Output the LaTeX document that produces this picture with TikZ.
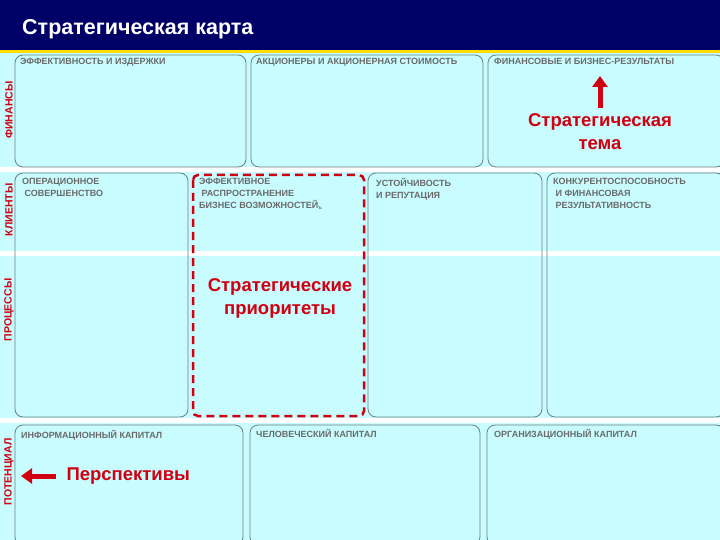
\documentclass[tikz,border=0pt]{standalone}
\usepackage{fontspec}
\setmainfont{Liberation Sans}
\usetikzlibrary{arrows.meta}
\definecolor{navy}{HTML}{000066}
\definecolor{cyanbg}{HTML}{C8FCFF}
\definecolor{boxline}{HTML}{6E7E80}
\definecolor{lbl}{HTML}{6A6A6A}
\definecolor{redc}{HTML}{D00010}
\tikzset{
 x=1pt,y=-1pt,
 card/.style={draw=boxline,line width=0.8pt,rounded corners=8pt},
 cardtxt/.style={anchor=north west,text=lbl,font=\bfseries\fontsize{9}{12}\selectfont,align=left,inner sep=0pt},
 side/.style={rotate=90,text=redc,font=\bfseries\fontsize{10.5}{12}\selectfont,inner sep=0pt},
 redtxt/.style={text=redc,font=\bfseries\fontsize{18.5}{23}\selectfont,align=center}
}
\begin{document}
\begin{tikzpicture}
\useasboundingbox (0,0) rectangle (720,540);
\fill[cyanbg] (0,0) rectangle (720,540);
\fill[navy] (0,0) rectangle (720,50);
\fill[yellow!80!orange] (0,50) rectangle (720,53);
\node[anchor=west,text=white,font=\bfseries\fontsize{21.5}{24}\selectfont,inner sep=0pt] (title) at (22,29) {Стратегическая карта};
% white bands
\fill[white] (0,167) rectangle (720,172);
\fill[white] (0,251) rectangle (720,256);
\fill[white] (0,418) rectangle (720,423);
% finance row
\draw[card] (15,55) rectangle (246,167);
\draw[card] (251,55) rectangle (483,167);
\draw[card] (488,55) rectangle (724,167);
% clients/processes row
\draw[card] (15,173) rectangle (188,417);
\draw[redc,line width=2.5pt,dash pattern=on 8pt off 5pt,rounded corners=5pt] (193,175) rectangle (364,416);
\draw[card] (368,173) rectangle (542,417);
\draw[card] (547,173) rectangle (724,417);
% potential row
\draw[card] (15,425) rectangle (243,545);
\draw[card] (250,425) rectangle (480,545);
\draw[card] (487,425) rectangle (724,545);
% card texts
\node[cardtxt] (t1) at (20,58) {ЭФФЕКТИВНОСТЬ И ИЗДЕРЖКИ};
\node[cardtxt] (t2) at (256,58) {АКЦИОНЕРЫ И АКЦИОНЕРНАЯ СТОИМОСТЬ};
\node[cardtxt] (t3) at (494,58) {ФИНАНСОВЫЕ И БИЗНЕС-РЕЗУЛЬТАТЫ};
\node[cardtxt] (t4) at (22,178) {ОПЕРАЦИОННОЕ\\\ СОВЕРШЕНСТВО};
\node[cardtxt] (t5) at (199,178) {ЭФФЕКТИВНОЕ\\\ РАСПРОСТРАНЕНИЕ\\БИЗНЕС ВОЗМОЖНОСТЕЙ\raisebox{-0.3ex}{\tiny ъ}};
\node[cardtxt] (t6) at (376,178) {УСТОЙЧИВОСТЬ\\И РЕПУТАЦИЯ};
\node[cardtxt] (t7) at (553,178) {КОНКУРЕНТОСПОСОБНОСТЬ\\\ И ФИНАНСОВАЯ\\\ РЕЗУЛЬТАТИВНОСТЬ};
\node[cardtxt] (t8) at (21,430) {ИНФОРМАЦИОННЫЙ КАПИТАЛ};
\node[cardtxt] (t9) at (256,429) {ЧЕЛОВЕЧЕСКИЙ КАПИТАЛ};
\node[cardtxt] (t10) at (494,429) {ОРГАНИЗАЦИОННЫЙ КАПИТАЛ};
% side labels
\node[side] (s1) at (9,110) {ФИНАНСЫ};
\node[side] (s2) at (9,210) {КЛИЕНТЫ};
\node[side] (s3) at (9,310) {ПРОЦЕССЫ};
\node[side] (s4) at (9,472) {ПОТЕНЦИАЛ};
% red annotations
\node[redtxt] (theme) at (600,132) {Стратегическая\\тема};
\coordinate (up) at (600,76);
\draw[redc,line width=5pt,-{Triangle[length=11pt,width=15pt]}] (600,108) -- (up);
\node[redtxt] (prio) at (280,298) {Стратегические\\приоритеты};
\node[redtxt,anchor=west] (persp) at (63,476) {Перспективы};
\coordinate (left) at (21,476);
\draw[redc,line width=5pt,-{Triangle[length=11pt,width=15pt]}] (persp.west) ++(-7,0) -- (left);
\end{tikzpicture}
\end{document}
